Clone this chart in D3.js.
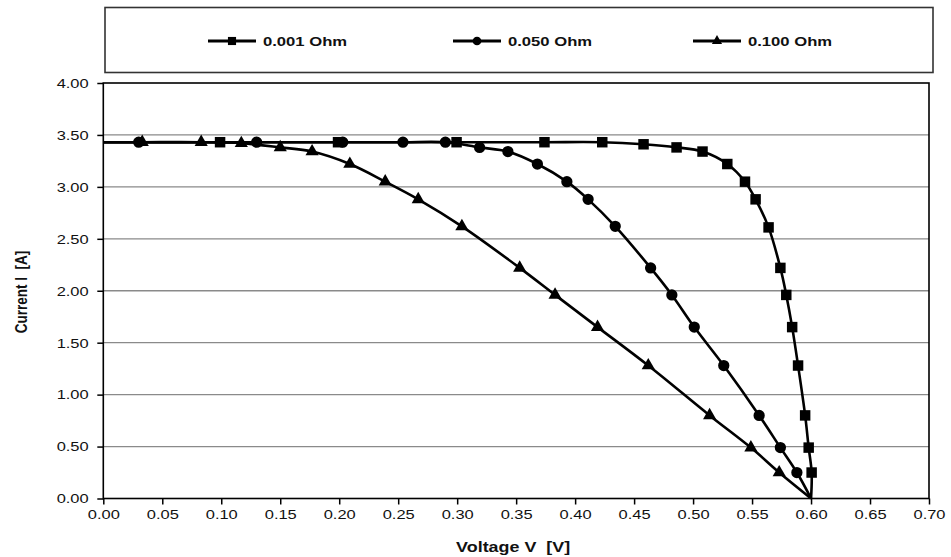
<!DOCTYPE html>
<html lang="en">
<head>
<meta charset="utf-8">
<title>I-V curves</title>
<script src="https://cdn.jsdelivr.net/npm/d3@7/dist/d3.min.js"></script>
<style>
  body { margin: 0; background: #fff; }
  text { font-family: "Liberation Sans", Arial, sans-serif; fill: #111; white-space: pre; }
</style>
</head>
<body>
<script type="text/javascript">

var width = 951;
var height = 557;

// series: voltage [V] and current [A]
var seriesNames = ["0.001 Ohm", "0.050 Ohm", "0.100 Ohm"];

var volt_001 = [0, 0.099, 0.199, 0.2995, 0.374, 0.423, 0.458, 0.486, 0.508, 0.529, 0.544, 0.553, 0.564, 0.574, 0.579, 0.584, 0.589, 0.595, 0.598, 0.6005, 0.600];
var curr_001 = [3.43, 3.43, 3.43, 3.43, 3.43, 3.43, 3.41, 3.38, 3.34, 3.22, 3.05, 2.88, 2.61, 2.22, 1.96, 1.65, 1.28, 0.80, 0.49, 0.25, 0];

var volt_050 = [0, 0.030, 0.130, 0.203, 0.254, 0.290, 0.319, 0.343, 0.368, 0.393, 0.411, 0.434, 0.464, 0.482, 0.501, 0.526, 0.556, 0.574, 0.588, 0.600];
var curr_050 = [3.43, 3.43, 3.43, 3.43, 3.43, 3.43, 3.38, 3.34, 3.22, 3.05, 2.88, 2.62, 2.22, 1.96, 1.65, 1.28, 0.80, 0.49, 0.25, 0];

var volt_100 = [0, 0.033, 0.083, 0.117, 0.150, 0.177, 0.209, 0.239, 0.267, 0.304, 0.353, 0.383, 0.419, 0.462, 0.514, 0.549, 0.573, 0.600];
var curr_100 = [3.43, 3.43, 3.43, 3.42, 3.38, 3.34, 3.22, 3.05, 2.88, 2.62, 2.22, 1.96, 1.65, 1.28, 0.80, 0.49, 0.25, 0];

var xTicks = [0, 0.05, 0.10, 0.15, 0.20, 0.25, 0.30, 0.35, 0.40, 0.45, 0.50, 0.55, 0.60, 0.65, 0.70];
var yTicks = [0, 0.5, 1.0, 1.5, 2.0, 2.5, 3.0, 3.5, 4.0];

var margin = {top: 83, right: 22, bottom: 58.5, left: 103.3};
var plotW = width - margin.left - margin.right;
var plotH = height - margin.top - margin.bottom;
var stretch = 1.22; // the picture's text is a little wide

var svg = d3.select("body").append("svg")
            .attr("width", width)
            .attr("height", height);

var x = d3.scaleLinear().domain([0, 0.7]).range([0, plotW]);
var y = d3.scaleLinear().domain([0, 4]).range([plotH, 0]);

var g = svg.append("g")
           .attr("transform", "translate(" + margin.left + "," + margin.top + ")");

// gridlines
g.append("g")
 .selectAll("line")
 .data(yTicks.filter(function(d) { return d > 0 && d < 4; }))
 .enter()
 .append("line")
 .attr("x1", 0)
 .attr("x2", plotW)
 .attr("y1", function(d) { return y(d); })
 .attr("y2", function(d) { return y(d); })
 .attr("stroke", "#8a8a8a")
 .attr("stroke-width", 1.3);

// axes
var xAxis = g.append("g")
             .attr("transform", "translate(0," + plotH + ")")
             .call(d3.axisBottom(x).tickValues(xTicks).tickSize(6).tickPadding(5)
                     .tickFormat(d3.format(".2f")));
var yAxis = g.append("g")
             .call(d3.axisLeft(y).tickValues(yTicks).tickSize(6).tickPadding(6)
                     .tickFormat(d3.format(".2f")));

[xAxis, yAxis].forEach(function(a) {
  a.select(".domain").remove();
  a.selectAll(".tick line").attr("stroke", "#000").attr("stroke-width", 1.5);
  a.selectAll(".tick text")
   .attr("font-size", 13.5)
   .attr("font-family", "Liberation Sans, Arial, sans-serif")
   .attr("fill", "#222")
   .attr("transform", "scale(" + stretch + ",1)");
});

// plot frame
g.append("rect")
 .attr("x", 0)
 .attr("y", 0)
 .attr("width", plotW)
 .attr("height", plotH)
 .attr("fill", "none")
 .attr("stroke", "#000")
 .attr("stroke-width", 1.6);

var series = [
  {name: seriesNames[0], v: volt_001, i: curr_001, symbol: d3.symbolSquare, size: 110},
  {name: seriesNames[1], v: volt_050, i: curr_050, symbol: d3.symbolCircle, size: 100},
  {name: seriesNames[2], v: volt_100, i: curr_100, symbol: d3.symbolTriangle, size: 75}
];

var line = d3.line()
             .x(function(d) { return x(d[0]); })
             .y(function(d) { return y(d[1]); })
             .curve(d3.curveCatmullRom.alpha(0.5));

series.forEach(function(s) {
  var pts = d3.zip(s.v, s.i);

  g.append("path")
   .attr("d", line(pts))
   .attr("fill", "none")
   .attr("stroke", "#000")
   .attr("stroke-width", 2.6);

  // the point at 0 V starts the line on the axis, no marker there
  g.append("g")
   .selectAll("path")
   .data(pts.filter(function(d) { return d[0] > 0 && d[1] > 0; }))
   .enter()
   .append("path")
   .attr("d", d3.symbol().type(s.symbol).size(s.size))
   .attr("transform", function(d) {
     return "translate(" + x(d[0]) + "," + y(d[1]) + ")";
   })
   .attr("fill", "#000");
});

// axis titles
svg.append("text")
   .attr("transform", "translate(" + (margin.left + plotW / 2 - 3) + ",552) scale(1.28,1)")
   .attr("text-anchor", "middle")
   .attr("font-size", 14)
   .attr("font-weight", "bold")
   .text("Voltage V  [V]");

svg.append("text")
   .attr("transform", "translate(27,292) rotate(-90) scale(1,1.25)")
   .attr("text-anchor", "middle")
   .attr("font-size", 13.5)
   .attr("font-weight", "bold")
   .text("Current I  [A]");

// legend
var legend = svg.append("g");
legend.append("rect")
      .attr("x", 105)
      .attr("y", 7.5)
      .attr("width", 828)
      .attr("height", 65)
      .attr("fill", "#fff")
      .attr("stroke", "#333")
      .attr("stroke-width", 1.6);

var legendX = [208, 453, 693];

var item = legend.selectAll(".item")
                 .data(series)
                 .enter()
                 .append("g")
                 .attr("transform", function(d, k) { return "translate(" + legendX[k] + ",41)"; });

item.append("line")
    .attr("x1", 0)
    .attr("x2", 48)
    .attr("stroke", "#000")
    .attr("stroke-width", 3);

item.append("path")
    .attr("d", function(d) { return d3.symbol().type(d.symbol).size(d.size * 0.6)(); })
    .attr("transform", "translate(24,0)")
    .attr("fill", "#000");

item.append("text")
    .attr("transform", "translate(55,4.5) scale(1.28,1)")
    .attr("font-size", 13)
    .attr("font-weight", "bold")
    .text(function(d) { return d.name; });

</script>
</body>
</html>
